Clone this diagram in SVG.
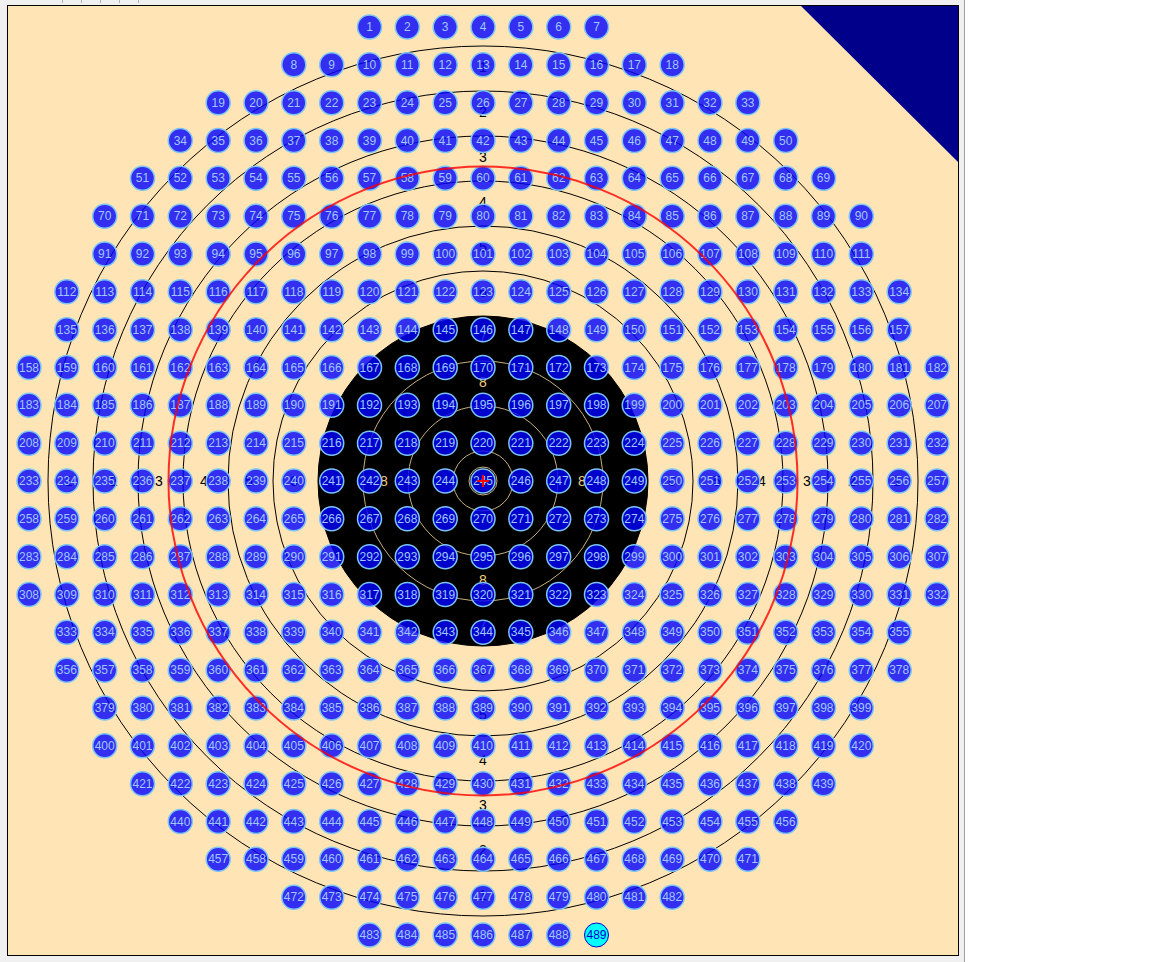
<svg xmlns="http://www.w3.org/2000/svg" width="1152" height="962" viewBox="0 0 1152 962">
<style>
.n circle{fill:#0000ff;fill-opacity:.8;stroke:#7cc4f4;stroke-width:1.5}
.n text{font-family:"Liberation Sans",Arial,sans-serif;font-size:12px;fill:#9ec8ff;text-anchor:middle}
.ring{fill:none;stroke:#000;stroke-width:1}
.tring{fill:none;stroke:#c8b07c;stroke-width:1}
.lb{font-family:"Liberation Sans",Arial,sans-serif;font-size:14px;text-anchor:middle;fill:#000}
.l7{fill:#d0d0d0}
.l8{fill:#f2cc80}
.tick{stroke:#b0b0b0;stroke-width:1}
</style>
<rect x="0" y="0" width="1152" height="962" fill="#f0f0f0"/>
<rect x="965" y="0" width="187" height="962" fill="#ffffff"/>
<line x1="964.5" y1="0" x2="964.5" y2="962" stroke="#a0a0a0"/>
<g id="ticks">
<line class="tick" x1="62.5" y1="0" x2="62.5" y2="3"/><line class="tick" x1="81.5" y1="0" x2="81.5" y2="3"/><line class="tick" x1="100.5" y1="0" x2="100.5" y2="3"/><line class="tick" x1="119.5" y1="0" x2="119.5" y2="3"/><line class="tick" x1="138.5" y1="0" x2="138.5" y2="3"/>
</g>
<rect id="field" x="7.5" y="5.5" width="951" height="950" fill="#ffe4b5" stroke="#000" stroke-width="1"/>
<polygon id="corner" points="801,6 958,6 958,162" fill="#00008b"/>
<g id="rings">
<circle class="ring" cx="483" cy="481" r="435"/>
<circle class="ring" cx="483" cy="481" r="390"/>
<circle class="ring" cx="483" cy="481" r="345"/>
<circle class="ring" cx="483" cy="481" r="300"/>
<circle class="ring" cx="483" cy="481" r="255"/>
<circle class="ring" cx="483" cy="481" r="210"/>
<circle cx="483" cy="481" r="165" fill="#000" stroke="#000"/>
<circle class="tring" cx="483" cy="481" r="120"/>
<circle class="tring" cx="483" cy="481" r="75"/>
<circle class="tring" cx="483" cy="481" r="30"/>
<circle class="tring" cx="483" cy="481" r="14" stroke-width="1.5"/>
</g>
<g id="ringlabels">
<text class="lb" x="483" y="72">1</text><text class="lb" x="483" y="900">1</text><text class="lb" x="69" y="486">1</text><text class="lb" x="897" y="486">1</text>
<text class="lb" x="483" y="117">2</text><text class="lb" x="483" y="855">2</text><text class="lb" x="114" y="486">2</text><text class="lb" x="852" y="486">2</text>
<text class="lb" x="483" y="162">3</text><text class="lb" x="483" y="810">3</text><text class="lb" x="159" y="486">3</text><text class="lb" x="807" y="486">3</text>
<text class="lb" x="483" y="207">4</text><text class="lb" x="483" y="765">4</text><text class="lb" x="204" y="486">4</text><text class="lb" x="762" y="486">4</text>
<text class="lb" x="483" y="252">5</text><text class="lb" x="483" y="720">5</text><text class="lb" x="249" y="486">5</text><text class="lb" x="717" y="486">5</text>
<text class="lb" x="483" y="297">6</text><text class="lb" x="483" y="675">6</text><text class="lb" x="294" y="486">6</text><text class="lb" x="672" y="486">6</text>
<text class="lb l7" x="483" y="342">7</text><text class="lb l7" x="483" y="630">7</text><text class="lb l7" x="339" y="486">7</text><text class="lb l7" x="627" y="486">7</text>
<text class="lb l8" x="483" y="387">8</text><text class="lb l8" x="483" y="585">8</text><text class="lb l8" x="384" y="486">8</text><text class="lb l8" x="582" y="486">8</text>
</g>
<g id="nodes">
<g transform="translate(0,27)">
<g id="n1" class="n" transform="translate(369.5)"><circle r="12"/><text y="4">1</text></g>
<g id="n2" class="n" transform="translate(407.3)"><circle r="12"/><text y="4">2</text></g>
<g id="n3" class="n" transform="translate(445.2)"><circle r="12"/><text y="4">3</text></g>
<g id="n4" class="n" transform="translate(483)"><circle r="12"/><text y="4">4</text></g>
<g id="n5" class="n" transform="translate(520.8)"><circle r="12"/><text y="4">5</text></g>
<g id="n6" class="n" transform="translate(558.7)"><circle r="12"/><text y="4">6</text></g>
<g id="n7" class="n" transform="translate(596.5)"><circle r="12"/><text y="4">7</text></g>
</g>
<g transform="translate(0,64.8)">
<g id="n8" class="n" transform="translate(293.8)"><circle r="12"/><text y="4">8</text></g>
<g id="n9" class="n" transform="translate(331.7)"><circle r="12"/><text y="4">9</text></g>
<g id="n10" class="n" transform="translate(369.5)"><circle r="12"/><text y="4">10</text></g>
<g id="n11" class="n" transform="translate(407.3)"><circle r="12"/><text y="4">11</text></g>
<g id="n12" class="n" transform="translate(445.2)"><circle r="12"/><text y="4">12</text></g>
<g id="n13" class="n" transform="translate(483)"><circle r="12"/><text y="4">13</text></g>
<g id="n14" class="n" transform="translate(520.8)"><circle r="12"/><text y="4">14</text></g>
<g id="n15" class="n" transform="translate(558.7)"><circle r="12"/><text y="4">15</text></g>
<g id="n16" class="n" transform="translate(596.5)"><circle r="12"/><text y="4">16</text></g>
<g id="n17" class="n" transform="translate(634.3)"><circle r="12"/><text y="4">17</text></g>
<g id="n18" class="n" transform="translate(672.2)"><circle r="12"/><text y="4">18</text></g>
</g>
<g transform="translate(0,102.7)">
<g id="n19" class="n" transform="translate(218.2)"><circle r="12"/><text y="4">19</text></g>
<g id="n20" class="n" transform="translate(256)"><circle r="12"/><text y="4">20</text></g>
<g id="n21" class="n" transform="translate(293.8)"><circle r="12"/><text y="4">21</text></g>
<g id="n22" class="n" transform="translate(331.7)"><circle r="12"/><text y="4">22</text></g>
<g id="n23" class="n" transform="translate(369.5)"><circle r="12"/><text y="4">23</text></g>
<g id="n24" class="n" transform="translate(407.3)"><circle r="12"/><text y="4">24</text></g>
<g id="n25" class="n" transform="translate(445.2)"><circle r="12"/><text y="4">25</text></g>
<g id="n26" class="n" transform="translate(483)"><circle r="12"/><text y="4">26</text></g>
<g id="n27" class="n" transform="translate(520.8)"><circle r="12"/><text y="4">27</text></g>
<g id="n28" class="n" transform="translate(558.7)"><circle r="12"/><text y="4">28</text></g>
<g id="n29" class="n" transform="translate(596.5)"><circle r="12"/><text y="4">29</text></g>
<g id="n30" class="n" transform="translate(634.3)"><circle r="12"/><text y="4">30</text></g>
<g id="n31" class="n" transform="translate(672.2)"><circle r="12"/><text y="4">31</text></g>
<g id="n32" class="n" transform="translate(710)"><circle r="12"/><text y="4">32</text></g>
<g id="n33" class="n" transform="translate(747.8)"><circle r="12"/><text y="4">33</text></g>
</g>
<g transform="translate(0,140.5)">
<g id="n34" class="n" transform="translate(180.3)"><circle r="12"/><text y="4">34</text></g>
<g id="n35" class="n" transform="translate(218.2)"><circle r="12"/><text y="4">35</text></g>
<g id="n36" class="n" transform="translate(256)"><circle r="12"/><text y="4">36</text></g>
<g id="n37" class="n" transform="translate(293.8)"><circle r="12"/><text y="4">37</text></g>
<g id="n38" class="n" transform="translate(331.7)"><circle r="12"/><text y="4">38</text></g>
<g id="n39" class="n" transform="translate(369.5)"><circle r="12"/><text y="4">39</text></g>
<g id="n40" class="n" transform="translate(407.3)"><circle r="12"/><text y="4">40</text></g>
<g id="n41" class="n" transform="translate(445.2)"><circle r="12"/><text y="4">41</text></g>
<g id="n42" class="n" transform="translate(483)"><circle r="12"/><text y="4">42</text></g>
<g id="n43" class="n" transform="translate(520.8)"><circle r="12"/><text y="4">43</text></g>
<g id="n44" class="n" transform="translate(558.7)"><circle r="12"/><text y="4">44</text></g>
<g id="n45" class="n" transform="translate(596.5)"><circle r="12"/><text y="4">45</text></g>
<g id="n46" class="n" transform="translate(634.3)"><circle r="12"/><text y="4">46</text></g>
<g id="n47" class="n" transform="translate(672.2)"><circle r="12"/><text y="4">47</text></g>
<g id="n48" class="n" transform="translate(710)"><circle r="12"/><text y="4">48</text></g>
<g id="n49" class="n" transform="translate(747.8)"><circle r="12"/><text y="4">49</text></g>
<g id="n50" class="n" transform="translate(785.7)"><circle r="12"/><text y="4">50</text></g>
</g>
<g transform="translate(0,178.3)">
<g id="n51" class="n" transform="translate(142.5)"><circle r="12"/><text y="4">51</text></g>
<g id="n52" class="n" transform="translate(180.3)"><circle r="12"/><text y="4">52</text></g>
<g id="n53" class="n" transform="translate(218.2)"><circle r="12"/><text y="4">53</text></g>
<g id="n54" class="n" transform="translate(256)"><circle r="12"/><text y="4">54</text></g>
<g id="n55" class="n" transform="translate(293.8)"><circle r="12"/><text y="4">55</text></g>
<g id="n56" class="n" transform="translate(331.7)"><circle r="12"/><text y="4">56</text></g>
<g id="n57" class="n" transform="translate(369.5)"><circle r="12"/><text y="4">57</text></g>
<g id="n58" class="n" transform="translate(407.3)"><circle r="12"/><text y="4">58</text></g>
<g id="n59" class="n" transform="translate(445.2)"><circle r="12"/><text y="4">59</text></g>
<g id="n60" class="n" transform="translate(483)"><circle r="12"/><text y="4">60</text></g>
<g id="n61" class="n" transform="translate(520.8)"><circle r="12"/><text y="4">61</text></g>
<g id="n62" class="n" transform="translate(558.7)"><circle r="12"/><text y="4">62</text></g>
<g id="n63" class="n" transform="translate(596.5)"><circle r="12"/><text y="4">63</text></g>
<g id="n64" class="n" transform="translate(634.3)"><circle r="12"/><text y="4">64</text></g>
<g id="n65" class="n" transform="translate(672.2)"><circle r="12"/><text y="4">65</text></g>
<g id="n66" class="n" transform="translate(710)"><circle r="12"/><text y="4">66</text></g>
<g id="n67" class="n" transform="translate(747.8)"><circle r="12"/><text y="4">67</text></g>
<g id="n68" class="n" transform="translate(785.7)"><circle r="12"/><text y="4">68</text></g>
<g id="n69" class="n" transform="translate(823.5)"><circle r="12"/><text y="4">69</text></g>
</g>
<g transform="translate(0,216.2)">
<g id="n70" class="n" transform="translate(104.7)"><circle r="12"/><text y="4">70</text></g>
<g id="n71" class="n" transform="translate(142.5)"><circle r="12"/><text y="4">71</text></g>
<g id="n72" class="n" transform="translate(180.3)"><circle r="12"/><text y="4">72</text></g>
<g id="n73" class="n" transform="translate(218.2)"><circle r="12"/><text y="4">73</text></g>
<g id="n74" class="n" transform="translate(256)"><circle r="12"/><text y="4">74</text></g>
<g id="n75" class="n" transform="translate(293.8)"><circle r="12"/><text y="4">75</text></g>
<g id="n76" class="n" transform="translate(331.7)"><circle r="12"/><text y="4">76</text></g>
<g id="n77" class="n" transform="translate(369.5)"><circle r="12"/><text y="4">77</text></g>
<g id="n78" class="n" transform="translate(407.3)"><circle r="12"/><text y="4">78</text></g>
<g id="n79" class="n" transform="translate(445.2)"><circle r="12"/><text y="4">79</text></g>
<g id="n80" class="n" transform="translate(483)"><circle r="12"/><text y="4">80</text></g>
<g id="n81" class="n" transform="translate(520.8)"><circle r="12"/><text y="4">81</text></g>
<g id="n82" class="n" transform="translate(558.7)"><circle r="12"/><text y="4">82</text></g>
<g id="n83" class="n" transform="translate(596.5)"><circle r="12"/><text y="4">83</text></g>
<g id="n84" class="n" transform="translate(634.3)"><circle r="12"/><text y="4">84</text></g>
<g id="n85" class="n" transform="translate(672.2)"><circle r="12"/><text y="4">85</text></g>
<g id="n86" class="n" transform="translate(710)"><circle r="12"/><text y="4">86</text></g>
<g id="n87" class="n" transform="translate(747.8)"><circle r="12"/><text y="4">87</text></g>
<g id="n88" class="n" transform="translate(785.7)"><circle r="12"/><text y="4">88</text></g>
<g id="n89" class="n" transform="translate(823.5)"><circle r="12"/><text y="4">89</text></g>
<g id="n90" class="n" transform="translate(861.3)"><circle r="12"/><text y="4">90</text></g>
</g>
<g transform="translate(0,254)">
<g id="n91" class="n" transform="translate(104.7)"><circle r="12"/><text y="4">91</text></g>
<g id="n92" class="n" transform="translate(142.5)"><circle r="12"/><text y="4">92</text></g>
<g id="n93" class="n" transform="translate(180.3)"><circle r="12"/><text y="4">93</text></g>
<g id="n94" class="n" transform="translate(218.2)"><circle r="12"/><text y="4">94</text></g>
<g id="n95" class="n" transform="translate(256)"><circle r="12"/><text y="4">95</text></g>
<g id="n96" class="n" transform="translate(293.8)"><circle r="12"/><text y="4">96</text></g>
<g id="n97" class="n" transform="translate(331.7)"><circle r="12"/><text y="4">97</text></g>
<g id="n98" class="n" transform="translate(369.5)"><circle r="12"/><text y="4">98</text></g>
<g id="n99" class="n" transform="translate(407.3)"><circle r="12"/><text y="4">99</text></g>
<g id="n100" class="n" transform="translate(445.2)"><circle r="12"/><text y="4">100</text></g>
<g id="n101" class="n" transform="translate(483)"><circle r="12"/><text y="4">101</text></g>
<g id="n102" class="n" transform="translate(520.8)"><circle r="12"/><text y="4">102</text></g>
<g id="n103" class="n" transform="translate(558.7)"><circle r="12"/><text y="4">103</text></g>
<g id="n104" class="n" transform="translate(596.5)"><circle r="12"/><text y="4">104</text></g>
<g id="n105" class="n" transform="translate(634.3)"><circle r="12"/><text y="4">105</text></g>
<g id="n106" class="n" transform="translate(672.2)"><circle r="12"/><text y="4">106</text></g>
<g id="n107" class="n" transform="translate(710)"><circle r="12"/><text y="4">107</text></g>
<g id="n108" class="n" transform="translate(747.8)"><circle r="12"/><text y="4">108</text></g>
<g id="n109" class="n" transform="translate(785.7)"><circle r="12"/><text y="4">109</text></g>
<g id="n110" class="n" transform="translate(823.5)"><circle r="12"/><text y="4">110</text></g>
<g id="n111" class="n" transform="translate(861.3)"><circle r="12"/><text y="4">111</text></g>
</g>
<g transform="translate(0,291.8)">
<g id="n112" class="n" transform="translate(66.8)"><circle r="12"/><text y="4">112</text></g>
<g id="n113" class="n" transform="translate(104.7)"><circle r="12"/><text y="4">113</text></g>
<g id="n114" class="n" transform="translate(142.5)"><circle r="12"/><text y="4">114</text></g>
<g id="n115" class="n" transform="translate(180.3)"><circle r="12"/><text y="4">115</text></g>
<g id="n116" class="n" transform="translate(218.2)"><circle r="12"/><text y="4">116</text></g>
<g id="n117" class="n" transform="translate(256)"><circle r="12"/><text y="4">117</text></g>
<g id="n118" class="n" transform="translate(293.8)"><circle r="12"/><text y="4">118</text></g>
<g id="n119" class="n" transform="translate(331.7)"><circle r="12"/><text y="4">119</text></g>
<g id="n120" class="n" transform="translate(369.5)"><circle r="12"/><text y="4">120</text></g>
<g id="n121" class="n" transform="translate(407.3)"><circle r="12"/><text y="4">121</text></g>
<g id="n122" class="n" transform="translate(445.2)"><circle r="12"/><text y="4">122</text></g>
<g id="n123" class="n" transform="translate(483)"><circle r="12"/><text y="4">123</text></g>
<g id="n124" class="n" transform="translate(520.8)"><circle r="12"/><text y="4">124</text></g>
<g id="n125" class="n" transform="translate(558.7)"><circle r="12"/><text y="4">125</text></g>
<g id="n126" class="n" transform="translate(596.5)"><circle r="12"/><text y="4">126</text></g>
<g id="n127" class="n" transform="translate(634.3)"><circle r="12"/><text y="4">127</text></g>
<g id="n128" class="n" transform="translate(672.2)"><circle r="12"/><text y="4">128</text></g>
<g id="n129" class="n" transform="translate(710)"><circle r="12"/><text y="4">129</text></g>
<g id="n130" class="n" transform="translate(747.8)"><circle r="12"/><text y="4">130</text></g>
<g id="n131" class="n" transform="translate(785.7)"><circle r="12"/><text y="4">131</text></g>
<g id="n132" class="n" transform="translate(823.5)"><circle r="12"/><text y="4">132</text></g>
<g id="n133" class="n" transform="translate(861.3)"><circle r="12"/><text y="4">133</text></g>
<g id="n134" class="n" transform="translate(899.2)"><circle r="12"/><text y="4">134</text></g>
</g>
<g transform="translate(0,329.7)">
<g id="n135" class="n" transform="translate(66.8)"><circle r="12"/><text y="4">135</text></g>
<g id="n136" class="n" transform="translate(104.7)"><circle r="12"/><text y="4">136</text></g>
<g id="n137" class="n" transform="translate(142.5)"><circle r="12"/><text y="4">137</text></g>
<g id="n138" class="n" transform="translate(180.3)"><circle r="12"/><text y="4">138</text></g>
<g id="n139" class="n" transform="translate(218.2)"><circle r="12"/><text y="4">139</text></g>
<g id="n140" class="n" transform="translate(256)"><circle r="12"/><text y="4">140</text></g>
<g id="n141" class="n" transform="translate(293.8)"><circle r="12"/><text y="4">141</text></g>
<g id="n142" class="n" transform="translate(331.7)"><circle r="12"/><text y="4">142</text></g>
<g id="n143" class="n" transform="translate(369.5)"><circle r="12"/><text y="4">143</text></g>
<g id="n144" class="n" transform="translate(407.3)"><circle r="12"/><text y="4">144</text></g>
<g id="n145" class="n" transform="translate(445.2)"><circle r="12"/><text y="4">145</text></g>
<g id="n146" class="n" transform="translate(483)"><circle r="12"/><text y="4">146</text></g>
<g id="n147" class="n" transform="translate(520.8)"><circle r="12"/><text y="4">147</text></g>
<g id="n148" class="n" transform="translate(558.7)"><circle r="12"/><text y="4">148</text></g>
<g id="n149" class="n" transform="translate(596.5)"><circle r="12"/><text y="4">149</text></g>
<g id="n150" class="n" transform="translate(634.3)"><circle r="12"/><text y="4">150</text></g>
<g id="n151" class="n" transform="translate(672.2)"><circle r="12"/><text y="4">151</text></g>
<g id="n152" class="n" transform="translate(710)"><circle r="12"/><text y="4">152</text></g>
<g id="n153" class="n" transform="translate(747.8)"><circle r="12"/><text y="4">153</text></g>
<g id="n154" class="n" transform="translate(785.7)"><circle r="12"/><text y="4">154</text></g>
<g id="n155" class="n" transform="translate(823.5)"><circle r="12"/><text y="4">155</text></g>
<g id="n156" class="n" transform="translate(861.3)"><circle r="12"/><text y="4">156</text></g>
<g id="n157" class="n" transform="translate(899.2)"><circle r="12"/><text y="4">157</text></g>
</g>
<g transform="translate(0,367.5)">
<g id="n158" class="n" transform="translate(29)"><circle r="12"/><text y="4">158</text></g>
<g id="n159" class="n" transform="translate(66.8)"><circle r="12"/><text y="4">159</text></g>
<g id="n160" class="n" transform="translate(104.7)"><circle r="12"/><text y="4">160</text></g>
<g id="n161" class="n" transform="translate(142.5)"><circle r="12"/><text y="4">161</text></g>
<g id="n162" class="n" transform="translate(180.3)"><circle r="12"/><text y="4">162</text></g>
<g id="n163" class="n" transform="translate(218.2)"><circle r="12"/><text y="4">163</text></g>
<g id="n164" class="n" transform="translate(256)"><circle r="12"/><text y="4">164</text></g>
<g id="n165" class="n" transform="translate(293.8)"><circle r="12"/><text y="4">165</text></g>
<g id="n166" class="n" transform="translate(331.7)"><circle r="12"/><text y="4">166</text></g>
<g id="n167" class="n" transform="translate(369.5)"><circle r="12"/><text y="4">167</text></g>
<g id="n168" class="n" transform="translate(407.3)"><circle r="12"/><text y="4">168</text></g>
<g id="n169" class="n" transform="translate(445.2)"><circle r="12"/><text y="4">169</text></g>
<g id="n170" class="n" transform="translate(483)"><circle r="12"/><text y="4">170</text></g>
<g id="n171" class="n" transform="translate(520.8)"><circle r="12"/><text y="4">171</text></g>
<g id="n172" class="n" transform="translate(558.7)"><circle r="12"/><text y="4">172</text></g>
<g id="n173" class="n" transform="translate(596.5)"><circle r="12"/><text y="4">173</text></g>
<g id="n174" class="n" transform="translate(634.3)"><circle r="12"/><text y="4">174</text></g>
<g id="n175" class="n" transform="translate(672.2)"><circle r="12"/><text y="4">175</text></g>
<g id="n176" class="n" transform="translate(710)"><circle r="12"/><text y="4">176</text></g>
<g id="n177" class="n" transform="translate(747.8)"><circle r="12"/><text y="4">177</text></g>
<g id="n178" class="n" transform="translate(785.7)"><circle r="12"/><text y="4">178</text></g>
<g id="n179" class="n" transform="translate(823.5)"><circle r="12"/><text y="4">179</text></g>
<g id="n180" class="n" transform="translate(861.3)"><circle r="12"/><text y="4">180</text></g>
<g id="n181" class="n" transform="translate(899.2)"><circle r="12"/><text y="4">181</text></g>
<g id="n182" class="n" transform="translate(937)"><circle r="12"/><text y="4">182</text></g>
</g>
<g transform="translate(0,405.3)">
<g id="n183" class="n" transform="translate(29)"><circle r="12"/><text y="4">183</text></g>
<g id="n184" class="n" transform="translate(66.8)"><circle r="12"/><text y="4">184</text></g>
<g id="n185" class="n" transform="translate(104.7)"><circle r="12"/><text y="4">185</text></g>
<g id="n186" class="n" transform="translate(142.5)"><circle r="12"/><text y="4">186</text></g>
<g id="n187" class="n" transform="translate(180.3)"><circle r="12"/><text y="4">187</text></g>
<g id="n188" class="n" transform="translate(218.2)"><circle r="12"/><text y="4">188</text></g>
<g id="n189" class="n" transform="translate(256)"><circle r="12"/><text y="4">189</text></g>
<g id="n190" class="n" transform="translate(293.8)"><circle r="12"/><text y="4">190</text></g>
<g id="n191" class="n" transform="translate(331.7)"><circle r="12"/><text y="4">191</text></g>
<g id="n192" class="n" transform="translate(369.5)"><circle r="12"/><text y="4">192</text></g>
<g id="n193" class="n" transform="translate(407.3)"><circle r="12"/><text y="4">193</text></g>
<g id="n194" class="n" transform="translate(445.2)"><circle r="12"/><text y="4">194</text></g>
<g id="n195" class="n" transform="translate(483)"><circle r="12"/><text y="4">195</text></g>
<g id="n196" class="n" transform="translate(520.8)"><circle r="12"/><text y="4">196</text></g>
<g id="n197" class="n" transform="translate(558.7)"><circle r="12"/><text y="4">197</text></g>
<g id="n198" class="n" transform="translate(596.5)"><circle r="12"/><text y="4">198</text></g>
<g id="n199" class="n" transform="translate(634.3)"><circle r="12"/><text y="4">199</text></g>
<g id="n200" class="n" transform="translate(672.2)"><circle r="12"/><text y="4">200</text></g>
<g id="n201" class="n" transform="translate(710)"><circle r="12"/><text y="4">201</text></g>
<g id="n202" class="n" transform="translate(747.8)"><circle r="12"/><text y="4">202</text></g>
<g id="n203" class="n" transform="translate(785.7)"><circle r="12"/><text y="4">203</text></g>
<g id="n204" class="n" transform="translate(823.5)"><circle r="12"/><text y="4">204</text></g>
<g id="n205" class="n" transform="translate(861.3)"><circle r="12"/><text y="4">205</text></g>
<g id="n206" class="n" transform="translate(899.2)"><circle r="12"/><text y="4">206</text></g>
<g id="n207" class="n" transform="translate(937)"><circle r="12"/><text y="4">207</text></g>
</g>
<g transform="translate(0,443.2)">
<g id="n208" class="n" transform="translate(29)"><circle r="12"/><text y="4">208</text></g>
<g id="n209" class="n" transform="translate(66.8)"><circle r="12"/><text y="4">209</text></g>
<g id="n210" class="n" transform="translate(104.7)"><circle r="12"/><text y="4">210</text></g>
<g id="n211" class="n" transform="translate(142.5)"><circle r="12"/><text y="4">211</text></g>
<g id="n212" class="n" transform="translate(180.3)"><circle r="12"/><text y="4">212</text></g>
<g id="n213" class="n" transform="translate(218.2)"><circle r="12"/><text y="4">213</text></g>
<g id="n214" class="n" transform="translate(256)"><circle r="12"/><text y="4">214</text></g>
<g id="n215" class="n" transform="translate(293.8)"><circle r="12"/><text y="4">215</text></g>
<g id="n216" class="n" transform="translate(331.7)"><circle r="12"/><text y="4">216</text></g>
<g id="n217" class="n" transform="translate(369.5)"><circle r="12"/><text y="4">217</text></g>
<g id="n218" class="n" transform="translate(407.3)"><circle r="12"/><text y="4">218</text></g>
<g id="n219" class="n" transform="translate(445.2)"><circle r="12"/><text y="4">219</text></g>
<g id="n220" class="n" transform="translate(483)"><circle r="12"/><text y="4">220</text></g>
<g id="n221" class="n" transform="translate(520.8)"><circle r="12"/><text y="4">221</text></g>
<g id="n222" class="n" transform="translate(558.7)"><circle r="12"/><text y="4">222</text></g>
<g id="n223" class="n" transform="translate(596.5)"><circle r="12"/><text y="4">223</text></g>
<g id="n224" class="n" transform="translate(634.3)"><circle r="12"/><text y="4">224</text></g>
<g id="n225" class="n" transform="translate(672.2)"><circle r="12"/><text y="4">225</text></g>
<g id="n226" class="n" transform="translate(710)"><circle r="12"/><text y="4">226</text></g>
<g id="n227" class="n" transform="translate(747.8)"><circle r="12"/><text y="4">227</text></g>
<g id="n228" class="n" transform="translate(785.7)"><circle r="12"/><text y="4">228</text></g>
<g id="n229" class="n" transform="translate(823.5)"><circle r="12"/><text y="4">229</text></g>
<g id="n230" class="n" transform="translate(861.3)"><circle r="12"/><text y="4">230</text></g>
<g id="n231" class="n" transform="translate(899.2)"><circle r="12"/><text y="4">231</text></g>
<g id="n232" class="n" transform="translate(937)"><circle r="12"/><text y="4">232</text></g>
</g>
<g transform="translate(0,481)">
<g id="n233" class="n" transform="translate(29)"><circle r="12"/><text y="4">233</text></g>
<g id="n234" class="n" transform="translate(66.8)"><circle r="12"/><text y="4">234</text></g>
<g id="n235" class="n" transform="translate(104.7)"><circle r="12"/><text y="4">235</text></g>
<g id="n236" class="n" transform="translate(142.5)"><circle r="12"/><text y="4">236</text></g>
<g id="n237" class="n" transform="translate(180.3)"><circle r="12"/><text y="4">237</text></g>
<g id="n238" class="n" transform="translate(218.2)"><circle r="12"/><text y="4">238</text></g>
<g id="n239" class="n" transform="translate(256)"><circle r="12"/><text y="4">239</text></g>
<g id="n240" class="n" transform="translate(293.8)"><circle r="12"/><text y="4">240</text></g>
<g id="n241" class="n" transform="translate(331.7)"><circle r="12"/><text y="4">241</text></g>
<g id="n242" class="n" transform="translate(369.5)"><circle r="12"/><text y="4">242</text></g>
<g id="n243" class="n" transform="translate(407.3)"><circle r="12"/><text y="4">243</text></g>
<g id="n244" class="n" transform="translate(445.2)"><circle r="12"/><text y="4">244</text></g>
<g id="n245" class="n" transform="translate(483)"><circle r="12"/><text y="4">245</text></g>
<g id="n246" class="n" transform="translate(520.8)"><circle r="12"/><text y="4">246</text></g>
<g id="n247" class="n" transform="translate(558.7)"><circle r="12"/><text y="4">247</text></g>
<g id="n248" class="n" transform="translate(596.5)"><circle r="12"/><text y="4">248</text></g>
<g id="n249" class="n" transform="translate(634.3)"><circle r="12"/><text y="4">249</text></g>
<g id="n250" class="n" transform="translate(672.2)"><circle r="12"/><text y="4">250</text></g>
<g id="n251" class="n" transform="translate(710)"><circle r="12"/><text y="4">251</text></g>
<g id="n252" class="n" transform="translate(747.8)"><circle r="12"/><text y="4">252</text></g>
<g id="n253" class="n" transform="translate(785.7)"><circle r="12"/><text y="4">253</text></g>
<g id="n254" class="n" transform="translate(823.5)"><circle r="12"/><text y="4">254</text></g>
<g id="n255" class="n" transform="translate(861.3)"><circle r="12"/><text y="4">255</text></g>
<g id="n256" class="n" transform="translate(899.2)"><circle r="12"/><text y="4">256</text></g>
<g id="n257" class="n" transform="translate(937)"><circle r="12"/><text y="4">257</text></g>
</g>
<g transform="translate(0,518.8)">
<g id="n258" class="n" transform="translate(29)"><circle r="12"/><text y="4">258</text></g>
<g id="n259" class="n" transform="translate(66.8)"><circle r="12"/><text y="4">259</text></g>
<g id="n260" class="n" transform="translate(104.7)"><circle r="12"/><text y="4">260</text></g>
<g id="n261" class="n" transform="translate(142.5)"><circle r="12"/><text y="4">261</text></g>
<g id="n262" class="n" transform="translate(180.3)"><circle r="12"/><text y="4">262</text></g>
<g id="n263" class="n" transform="translate(218.2)"><circle r="12"/><text y="4">263</text></g>
<g id="n264" class="n" transform="translate(256)"><circle r="12"/><text y="4">264</text></g>
<g id="n265" class="n" transform="translate(293.8)"><circle r="12"/><text y="4">265</text></g>
<g id="n266" class="n" transform="translate(331.7)"><circle r="12"/><text y="4">266</text></g>
<g id="n267" class="n" transform="translate(369.5)"><circle r="12"/><text y="4">267</text></g>
<g id="n268" class="n" transform="translate(407.3)"><circle r="12"/><text y="4">268</text></g>
<g id="n269" class="n" transform="translate(445.2)"><circle r="12"/><text y="4">269</text></g>
<g id="n270" class="n" transform="translate(483)"><circle r="12"/><text y="4">270</text></g>
<g id="n271" class="n" transform="translate(520.8)"><circle r="12"/><text y="4">271</text></g>
<g id="n272" class="n" transform="translate(558.7)"><circle r="12"/><text y="4">272</text></g>
<g id="n273" class="n" transform="translate(596.5)"><circle r="12"/><text y="4">273</text></g>
<g id="n274" class="n" transform="translate(634.3)"><circle r="12"/><text y="4">274</text></g>
<g id="n275" class="n" transform="translate(672.2)"><circle r="12"/><text y="4">275</text></g>
<g id="n276" class="n" transform="translate(710)"><circle r="12"/><text y="4">276</text></g>
<g id="n277" class="n" transform="translate(747.8)"><circle r="12"/><text y="4">277</text></g>
<g id="n278" class="n" transform="translate(785.7)"><circle r="12"/><text y="4">278</text></g>
<g id="n279" class="n" transform="translate(823.5)"><circle r="12"/><text y="4">279</text></g>
<g id="n280" class="n" transform="translate(861.3)"><circle r="12"/><text y="4">280</text></g>
<g id="n281" class="n" transform="translate(899.2)"><circle r="12"/><text y="4">281</text></g>
<g id="n282" class="n" transform="translate(937)"><circle r="12"/><text y="4">282</text></g>
</g>
<g transform="translate(0,556.7)">
<g id="n283" class="n" transform="translate(29)"><circle r="12"/><text y="4">283</text></g>
<g id="n284" class="n" transform="translate(66.8)"><circle r="12"/><text y="4">284</text></g>
<g id="n285" class="n" transform="translate(104.7)"><circle r="12"/><text y="4">285</text></g>
<g id="n286" class="n" transform="translate(142.5)"><circle r="12"/><text y="4">286</text></g>
<g id="n287" class="n" transform="translate(180.3)"><circle r="12"/><text y="4">287</text></g>
<g id="n288" class="n" transform="translate(218.2)"><circle r="12"/><text y="4">288</text></g>
<g id="n289" class="n" transform="translate(256)"><circle r="12"/><text y="4">289</text></g>
<g id="n290" class="n" transform="translate(293.8)"><circle r="12"/><text y="4">290</text></g>
<g id="n291" class="n" transform="translate(331.7)"><circle r="12"/><text y="4">291</text></g>
<g id="n292" class="n" transform="translate(369.5)"><circle r="12"/><text y="4">292</text></g>
<g id="n293" class="n" transform="translate(407.3)"><circle r="12"/><text y="4">293</text></g>
<g id="n294" class="n" transform="translate(445.2)"><circle r="12"/><text y="4">294</text></g>
<g id="n295" class="n" transform="translate(483)"><circle r="12"/><text y="4">295</text></g>
<g id="n296" class="n" transform="translate(520.8)"><circle r="12"/><text y="4">296</text></g>
<g id="n297" class="n" transform="translate(558.7)"><circle r="12"/><text y="4">297</text></g>
<g id="n298" class="n" transform="translate(596.5)"><circle r="12"/><text y="4">298</text></g>
<g id="n299" class="n" transform="translate(634.3)"><circle r="12"/><text y="4">299</text></g>
<g id="n300" class="n" transform="translate(672.2)"><circle r="12"/><text y="4">300</text></g>
<g id="n301" class="n" transform="translate(710)"><circle r="12"/><text y="4">301</text></g>
<g id="n302" class="n" transform="translate(747.8)"><circle r="12"/><text y="4">302</text></g>
<g id="n303" class="n" transform="translate(785.7)"><circle r="12"/><text y="4">303</text></g>
<g id="n304" class="n" transform="translate(823.5)"><circle r="12"/><text y="4">304</text></g>
<g id="n305" class="n" transform="translate(861.3)"><circle r="12"/><text y="4">305</text></g>
<g id="n306" class="n" transform="translate(899.2)"><circle r="12"/><text y="4">306</text></g>
<g id="n307" class="n" transform="translate(937)"><circle r="12"/><text y="4">307</text></g>
</g>
<g transform="translate(0,594.5)">
<g id="n308" class="n" transform="translate(29)"><circle r="12"/><text y="4">308</text></g>
<g id="n309" class="n" transform="translate(66.8)"><circle r="12"/><text y="4">309</text></g>
<g id="n310" class="n" transform="translate(104.7)"><circle r="12"/><text y="4">310</text></g>
<g id="n311" class="n" transform="translate(142.5)"><circle r="12"/><text y="4">311</text></g>
<g id="n312" class="n" transform="translate(180.3)"><circle r="12"/><text y="4">312</text></g>
<g id="n313" class="n" transform="translate(218.2)"><circle r="12"/><text y="4">313</text></g>
<g id="n314" class="n" transform="translate(256)"><circle r="12"/><text y="4">314</text></g>
<g id="n315" class="n" transform="translate(293.8)"><circle r="12"/><text y="4">315</text></g>
<g id="n316" class="n" transform="translate(331.7)"><circle r="12"/><text y="4">316</text></g>
<g id="n317" class="n" transform="translate(369.5)"><circle r="12"/><text y="4">317</text></g>
<g id="n318" class="n" transform="translate(407.3)"><circle r="12"/><text y="4">318</text></g>
<g id="n319" class="n" transform="translate(445.2)"><circle r="12"/><text y="4">319</text></g>
<g id="n320" class="n" transform="translate(483)"><circle r="12"/><text y="4">320</text></g>
<g id="n321" class="n" transform="translate(520.8)"><circle r="12"/><text y="4">321</text></g>
<g id="n322" class="n" transform="translate(558.7)"><circle r="12"/><text y="4">322</text></g>
<g id="n323" class="n" transform="translate(596.5)"><circle r="12"/><text y="4">323</text></g>
<g id="n324" class="n" transform="translate(634.3)"><circle r="12"/><text y="4">324</text></g>
<g id="n325" class="n" transform="translate(672.2)"><circle r="12"/><text y="4">325</text></g>
<g id="n326" class="n" transform="translate(710)"><circle r="12"/><text y="4">326</text></g>
<g id="n327" class="n" transform="translate(747.8)"><circle r="12"/><text y="4">327</text></g>
<g id="n328" class="n" transform="translate(785.7)"><circle r="12"/><text y="4">328</text></g>
<g id="n329" class="n" transform="translate(823.5)"><circle r="12"/><text y="4">329</text></g>
<g id="n330" class="n" transform="translate(861.3)"><circle r="12"/><text y="4">330</text></g>
<g id="n331" class="n" transform="translate(899.2)"><circle r="12"/><text y="4">331</text></g>
<g id="n332" class="n" transform="translate(937)"><circle r="12"/><text y="4">332</text></g>
</g>
<g transform="translate(0,632.3)">
<g id="n333" class="n" transform="translate(66.8)"><circle r="12"/><text y="4">333</text></g>
<g id="n334" class="n" transform="translate(104.7)"><circle r="12"/><text y="4">334</text></g>
<g id="n335" class="n" transform="translate(142.5)"><circle r="12"/><text y="4">335</text></g>
<g id="n336" class="n" transform="translate(180.3)"><circle r="12"/><text y="4">336</text></g>
<g id="n337" class="n" transform="translate(218.2)"><circle r="12"/><text y="4">337</text></g>
<g id="n338" class="n" transform="translate(256)"><circle r="12"/><text y="4">338</text></g>
<g id="n339" class="n" transform="translate(293.8)"><circle r="12"/><text y="4">339</text></g>
<g id="n340" class="n" transform="translate(331.7)"><circle r="12"/><text y="4">340</text></g>
<g id="n341" class="n" transform="translate(369.5)"><circle r="12"/><text y="4">341</text></g>
<g id="n342" class="n" transform="translate(407.3)"><circle r="12"/><text y="4">342</text></g>
<g id="n343" class="n" transform="translate(445.2)"><circle r="12"/><text y="4">343</text></g>
<g id="n344" class="n" transform="translate(483)"><circle r="12"/><text y="4">344</text></g>
<g id="n345" class="n" transform="translate(520.8)"><circle r="12"/><text y="4">345</text></g>
<g id="n346" class="n" transform="translate(558.7)"><circle r="12"/><text y="4">346</text></g>
<g id="n347" class="n" transform="translate(596.5)"><circle r="12"/><text y="4">347</text></g>
<g id="n348" class="n" transform="translate(634.3)"><circle r="12"/><text y="4">348</text></g>
<g id="n349" class="n" transform="translate(672.2)"><circle r="12"/><text y="4">349</text></g>
<g id="n350" class="n" transform="translate(710)"><circle r="12"/><text y="4">350</text></g>
<g id="n351" class="n" transform="translate(747.8)"><circle r="12"/><text y="4">351</text></g>
<g id="n352" class="n" transform="translate(785.7)"><circle r="12"/><text y="4">352</text></g>
<g id="n353" class="n" transform="translate(823.5)"><circle r="12"/><text y="4">353</text></g>
<g id="n354" class="n" transform="translate(861.3)"><circle r="12"/><text y="4">354</text></g>
<g id="n355" class="n" transform="translate(899.2)"><circle r="12"/><text y="4">355</text></g>
</g>
<g transform="translate(0,670.2)">
<g id="n356" class="n" transform="translate(66.8)"><circle r="12"/><text y="4">356</text></g>
<g id="n357" class="n" transform="translate(104.7)"><circle r="12"/><text y="4">357</text></g>
<g id="n358" class="n" transform="translate(142.5)"><circle r="12"/><text y="4">358</text></g>
<g id="n359" class="n" transform="translate(180.3)"><circle r="12"/><text y="4">359</text></g>
<g id="n360" class="n" transform="translate(218.2)"><circle r="12"/><text y="4">360</text></g>
<g id="n361" class="n" transform="translate(256)"><circle r="12"/><text y="4">361</text></g>
<g id="n362" class="n" transform="translate(293.8)"><circle r="12"/><text y="4">362</text></g>
<g id="n363" class="n" transform="translate(331.7)"><circle r="12"/><text y="4">363</text></g>
<g id="n364" class="n" transform="translate(369.5)"><circle r="12"/><text y="4">364</text></g>
<g id="n365" class="n" transform="translate(407.3)"><circle r="12"/><text y="4">365</text></g>
<g id="n366" class="n" transform="translate(445.2)"><circle r="12"/><text y="4">366</text></g>
<g id="n367" class="n" transform="translate(483)"><circle r="12"/><text y="4">367</text></g>
<g id="n368" class="n" transform="translate(520.8)"><circle r="12"/><text y="4">368</text></g>
<g id="n369" class="n" transform="translate(558.7)"><circle r="12"/><text y="4">369</text></g>
<g id="n370" class="n" transform="translate(596.5)"><circle r="12"/><text y="4">370</text></g>
<g id="n371" class="n" transform="translate(634.3)"><circle r="12"/><text y="4">371</text></g>
<g id="n372" class="n" transform="translate(672.2)"><circle r="12"/><text y="4">372</text></g>
<g id="n373" class="n" transform="translate(710)"><circle r="12"/><text y="4">373</text></g>
<g id="n374" class="n" transform="translate(747.8)"><circle r="12"/><text y="4">374</text></g>
<g id="n375" class="n" transform="translate(785.7)"><circle r="12"/><text y="4">375</text></g>
<g id="n376" class="n" transform="translate(823.5)"><circle r="12"/><text y="4">376</text></g>
<g id="n377" class="n" transform="translate(861.3)"><circle r="12"/><text y="4">377</text></g>
<g id="n378" class="n" transform="translate(899.2)"><circle r="12"/><text y="4">378</text></g>
</g>
<g transform="translate(0,708)">
<g id="n379" class="n" transform="translate(104.7)"><circle r="12"/><text y="4">379</text></g>
<g id="n380" class="n" transform="translate(142.5)"><circle r="12"/><text y="4">380</text></g>
<g id="n381" class="n" transform="translate(180.3)"><circle r="12"/><text y="4">381</text></g>
<g id="n382" class="n" transform="translate(218.2)"><circle r="12"/><text y="4">382</text></g>
<g id="n383" class="n" transform="translate(256)"><circle r="12"/><text y="4">383</text></g>
<g id="n384" class="n" transform="translate(293.8)"><circle r="12"/><text y="4">384</text></g>
<g id="n385" class="n" transform="translate(331.7)"><circle r="12"/><text y="4">385</text></g>
<g id="n386" class="n" transform="translate(369.5)"><circle r="12"/><text y="4">386</text></g>
<g id="n387" class="n" transform="translate(407.3)"><circle r="12"/><text y="4">387</text></g>
<g id="n388" class="n" transform="translate(445.2)"><circle r="12"/><text y="4">388</text></g>
<g id="n389" class="n" transform="translate(483)"><circle r="12"/><text y="4">389</text></g>
<g id="n390" class="n" transform="translate(520.8)"><circle r="12"/><text y="4">390</text></g>
<g id="n391" class="n" transform="translate(558.7)"><circle r="12"/><text y="4">391</text></g>
<g id="n392" class="n" transform="translate(596.5)"><circle r="12"/><text y="4">392</text></g>
<g id="n393" class="n" transform="translate(634.3)"><circle r="12"/><text y="4">393</text></g>
<g id="n394" class="n" transform="translate(672.2)"><circle r="12"/><text y="4">394</text></g>
<g id="n395" class="n" transform="translate(710)"><circle r="12"/><text y="4">395</text></g>
<g id="n396" class="n" transform="translate(747.8)"><circle r="12"/><text y="4">396</text></g>
<g id="n397" class="n" transform="translate(785.7)"><circle r="12"/><text y="4">397</text></g>
<g id="n398" class="n" transform="translate(823.5)"><circle r="12"/><text y="4">398</text></g>
<g id="n399" class="n" transform="translate(861.3)"><circle r="12"/><text y="4">399</text></g>
</g>
<g transform="translate(0,745.8)">
<g id="n400" class="n" transform="translate(104.7)"><circle r="12"/><text y="4">400</text></g>
<g id="n401" class="n" transform="translate(142.5)"><circle r="12"/><text y="4">401</text></g>
<g id="n402" class="n" transform="translate(180.3)"><circle r="12"/><text y="4">402</text></g>
<g id="n403" class="n" transform="translate(218.2)"><circle r="12"/><text y="4">403</text></g>
<g id="n404" class="n" transform="translate(256)"><circle r="12"/><text y="4">404</text></g>
<g id="n405" class="n" transform="translate(293.8)"><circle r="12"/><text y="4">405</text></g>
<g id="n406" class="n" transform="translate(331.7)"><circle r="12"/><text y="4">406</text></g>
<g id="n407" class="n" transform="translate(369.5)"><circle r="12"/><text y="4">407</text></g>
<g id="n408" class="n" transform="translate(407.3)"><circle r="12"/><text y="4">408</text></g>
<g id="n409" class="n" transform="translate(445.2)"><circle r="12"/><text y="4">409</text></g>
<g id="n410" class="n" transform="translate(483)"><circle r="12"/><text y="4">410</text></g>
<g id="n411" class="n" transform="translate(520.8)"><circle r="12"/><text y="4">411</text></g>
<g id="n412" class="n" transform="translate(558.7)"><circle r="12"/><text y="4">412</text></g>
<g id="n413" class="n" transform="translate(596.5)"><circle r="12"/><text y="4">413</text></g>
<g id="n414" class="n" transform="translate(634.3)"><circle r="12"/><text y="4">414</text></g>
<g id="n415" class="n" transform="translate(672.2)"><circle r="12"/><text y="4">415</text></g>
<g id="n416" class="n" transform="translate(710)"><circle r="12"/><text y="4">416</text></g>
<g id="n417" class="n" transform="translate(747.8)"><circle r="12"/><text y="4">417</text></g>
<g id="n418" class="n" transform="translate(785.7)"><circle r="12"/><text y="4">418</text></g>
<g id="n419" class="n" transform="translate(823.5)"><circle r="12"/><text y="4">419</text></g>
<g id="n420" class="n" transform="translate(861.3)"><circle r="12"/><text y="4">420</text></g>
</g>
<g transform="translate(0,783.7)">
<g id="n421" class="n" transform="translate(142.5)"><circle r="12"/><text y="4">421</text></g>
<g id="n422" class="n" transform="translate(180.3)"><circle r="12"/><text y="4">422</text></g>
<g id="n423" class="n" transform="translate(218.2)"><circle r="12"/><text y="4">423</text></g>
<g id="n424" class="n" transform="translate(256)"><circle r="12"/><text y="4">424</text></g>
<g id="n425" class="n" transform="translate(293.8)"><circle r="12"/><text y="4">425</text></g>
<g id="n426" class="n" transform="translate(331.7)"><circle r="12"/><text y="4">426</text></g>
<g id="n427" class="n" transform="translate(369.5)"><circle r="12"/><text y="4">427</text></g>
<g id="n428" class="n" transform="translate(407.3)"><circle r="12"/><text y="4">428</text></g>
<g id="n429" class="n" transform="translate(445.2)"><circle r="12"/><text y="4">429</text></g>
<g id="n430" class="n" transform="translate(483)"><circle r="12"/><text y="4">430</text></g>
<g id="n431" class="n" transform="translate(520.8)"><circle r="12"/><text y="4">431</text></g>
<g id="n432" class="n" transform="translate(558.7)"><circle r="12"/><text y="4">432</text></g>
<g id="n433" class="n" transform="translate(596.5)"><circle r="12"/><text y="4">433</text></g>
<g id="n434" class="n" transform="translate(634.3)"><circle r="12"/><text y="4">434</text></g>
<g id="n435" class="n" transform="translate(672.2)"><circle r="12"/><text y="4">435</text></g>
<g id="n436" class="n" transform="translate(710)"><circle r="12"/><text y="4">436</text></g>
<g id="n437" class="n" transform="translate(747.8)"><circle r="12"/><text y="4">437</text></g>
<g id="n438" class="n" transform="translate(785.7)"><circle r="12"/><text y="4">438</text></g>
<g id="n439" class="n" transform="translate(823.5)"><circle r="12"/><text y="4">439</text></g>
</g>
<g transform="translate(0,821.5)">
<g id="n440" class="n" transform="translate(180.3)"><circle r="12"/><text y="4">440</text></g>
<g id="n441" class="n" transform="translate(218.2)"><circle r="12"/><text y="4">441</text></g>
<g id="n442" class="n" transform="translate(256)"><circle r="12"/><text y="4">442</text></g>
<g id="n443" class="n" transform="translate(293.8)"><circle r="12"/><text y="4">443</text></g>
<g id="n444" class="n" transform="translate(331.7)"><circle r="12"/><text y="4">444</text></g>
<g id="n445" class="n" transform="translate(369.5)"><circle r="12"/><text y="4">445</text></g>
<g id="n446" class="n" transform="translate(407.3)"><circle r="12"/><text y="4">446</text></g>
<g id="n447" class="n" transform="translate(445.2)"><circle r="12"/><text y="4">447</text></g>
<g id="n448" class="n" transform="translate(483)"><circle r="12"/><text y="4">448</text></g>
<g id="n449" class="n" transform="translate(520.8)"><circle r="12"/><text y="4">449</text></g>
<g id="n450" class="n" transform="translate(558.7)"><circle r="12"/><text y="4">450</text></g>
<g id="n451" class="n" transform="translate(596.5)"><circle r="12"/><text y="4">451</text></g>
<g id="n452" class="n" transform="translate(634.3)"><circle r="12"/><text y="4">452</text></g>
<g id="n453" class="n" transform="translate(672.2)"><circle r="12"/><text y="4">453</text></g>
<g id="n454" class="n" transform="translate(710)"><circle r="12"/><text y="4">454</text></g>
<g id="n455" class="n" transform="translate(747.8)"><circle r="12"/><text y="4">455</text></g>
<g id="n456" class="n" transform="translate(785.7)"><circle r="12"/><text y="4">456</text></g>
</g>
<g transform="translate(0,859.3)">
<g id="n457" class="n" transform="translate(218.2)"><circle r="12"/><text y="4">457</text></g>
<g id="n458" class="n" transform="translate(256)"><circle r="12"/><text y="4">458</text></g>
<g id="n459" class="n" transform="translate(293.8)"><circle r="12"/><text y="4">459</text></g>
<g id="n460" class="n" transform="translate(331.7)"><circle r="12"/><text y="4">460</text></g>
<g id="n461" class="n" transform="translate(369.5)"><circle r="12"/><text y="4">461</text></g>
<g id="n462" class="n" transform="translate(407.3)"><circle r="12"/><text y="4">462</text></g>
<g id="n463" class="n" transform="translate(445.2)"><circle r="12"/><text y="4">463</text></g>
<g id="n464" class="n" transform="translate(483)"><circle r="12"/><text y="4">464</text></g>
<g id="n465" class="n" transform="translate(520.8)"><circle r="12"/><text y="4">465</text></g>
<g id="n466" class="n" transform="translate(558.7)"><circle r="12"/><text y="4">466</text></g>
<g id="n467" class="n" transform="translate(596.5)"><circle r="12"/><text y="4">467</text></g>
<g id="n468" class="n" transform="translate(634.3)"><circle r="12"/><text y="4">468</text></g>
<g id="n469" class="n" transform="translate(672.2)"><circle r="12"/><text y="4">469</text></g>
<g id="n470" class="n" transform="translate(710)"><circle r="12"/><text y="4">470</text></g>
<g id="n471" class="n" transform="translate(747.8)"><circle r="12"/><text y="4">471</text></g>
</g>
<g transform="translate(0,897.2)">
<g id="n472" class="n" transform="translate(293.8)"><circle r="12"/><text y="4">472</text></g>
<g id="n473" class="n" transform="translate(331.7)"><circle r="12"/><text y="4">473</text></g>
<g id="n474" class="n" transform="translate(369.5)"><circle r="12"/><text y="4">474</text></g>
<g id="n475" class="n" transform="translate(407.3)"><circle r="12"/><text y="4">475</text></g>
<g id="n476" class="n" transform="translate(445.2)"><circle r="12"/><text y="4">476</text></g>
<g id="n477" class="n" transform="translate(483)"><circle r="12"/><text y="4">477</text></g>
<g id="n478" class="n" transform="translate(520.8)"><circle r="12"/><text y="4">478</text></g>
<g id="n479" class="n" transform="translate(558.7)"><circle r="12"/><text y="4">479</text></g>
<g id="n480" class="n" transform="translate(596.5)"><circle r="12"/><text y="4">480</text></g>
<g id="n481" class="n" transform="translate(634.3)"><circle r="12"/><text y="4">481</text></g>
<g id="n482" class="n" transform="translate(672.2)"><circle r="12"/><text y="4">482</text></g>
</g>
<g transform="translate(0,935)">
<g id="n483" class="n" transform="translate(369.5)"><circle r="12"/><text y="4">483</text></g>
<g id="n484" class="n" transform="translate(407.3)"><circle r="12"/><text y="4">484</text></g>
<g id="n485" class="n" transform="translate(445.2)"><circle r="12"/><text y="4">485</text></g>
<g id="n486" class="n" transform="translate(483)"><circle r="12"/><text y="4">486</text></g>
<g id="n487" class="n" transform="translate(520.8)"><circle r="12"/><text y="4">487</text></g>
<g id="n488" class="n" transform="translate(558.7)"><circle r="12"/><text y="4">488</text></g>
<g id="n489" class="n" transform="translate(596.5)"><circle r="12" style="fill:#00ffff;fill-opacity:1;stroke:#0000cc;stroke-width:1"/><text y="4" style="fill:#0000cc">489</text></g>
</g>
</g>
<circle id="redring" cx="483" cy="481" r="314.5" fill="none" stroke="#ff0000" stroke-width="2" stroke-opacity="0.8"/>
<g id="center-mark">
<line x1="477" y1="481" x2="489" y2="481" stroke="#ff0000" stroke-width="2"/>
<line x1="483" y1="475" x2="483" y2="487" stroke="#ff0000" stroke-width="2"/>
</g>
</svg>
